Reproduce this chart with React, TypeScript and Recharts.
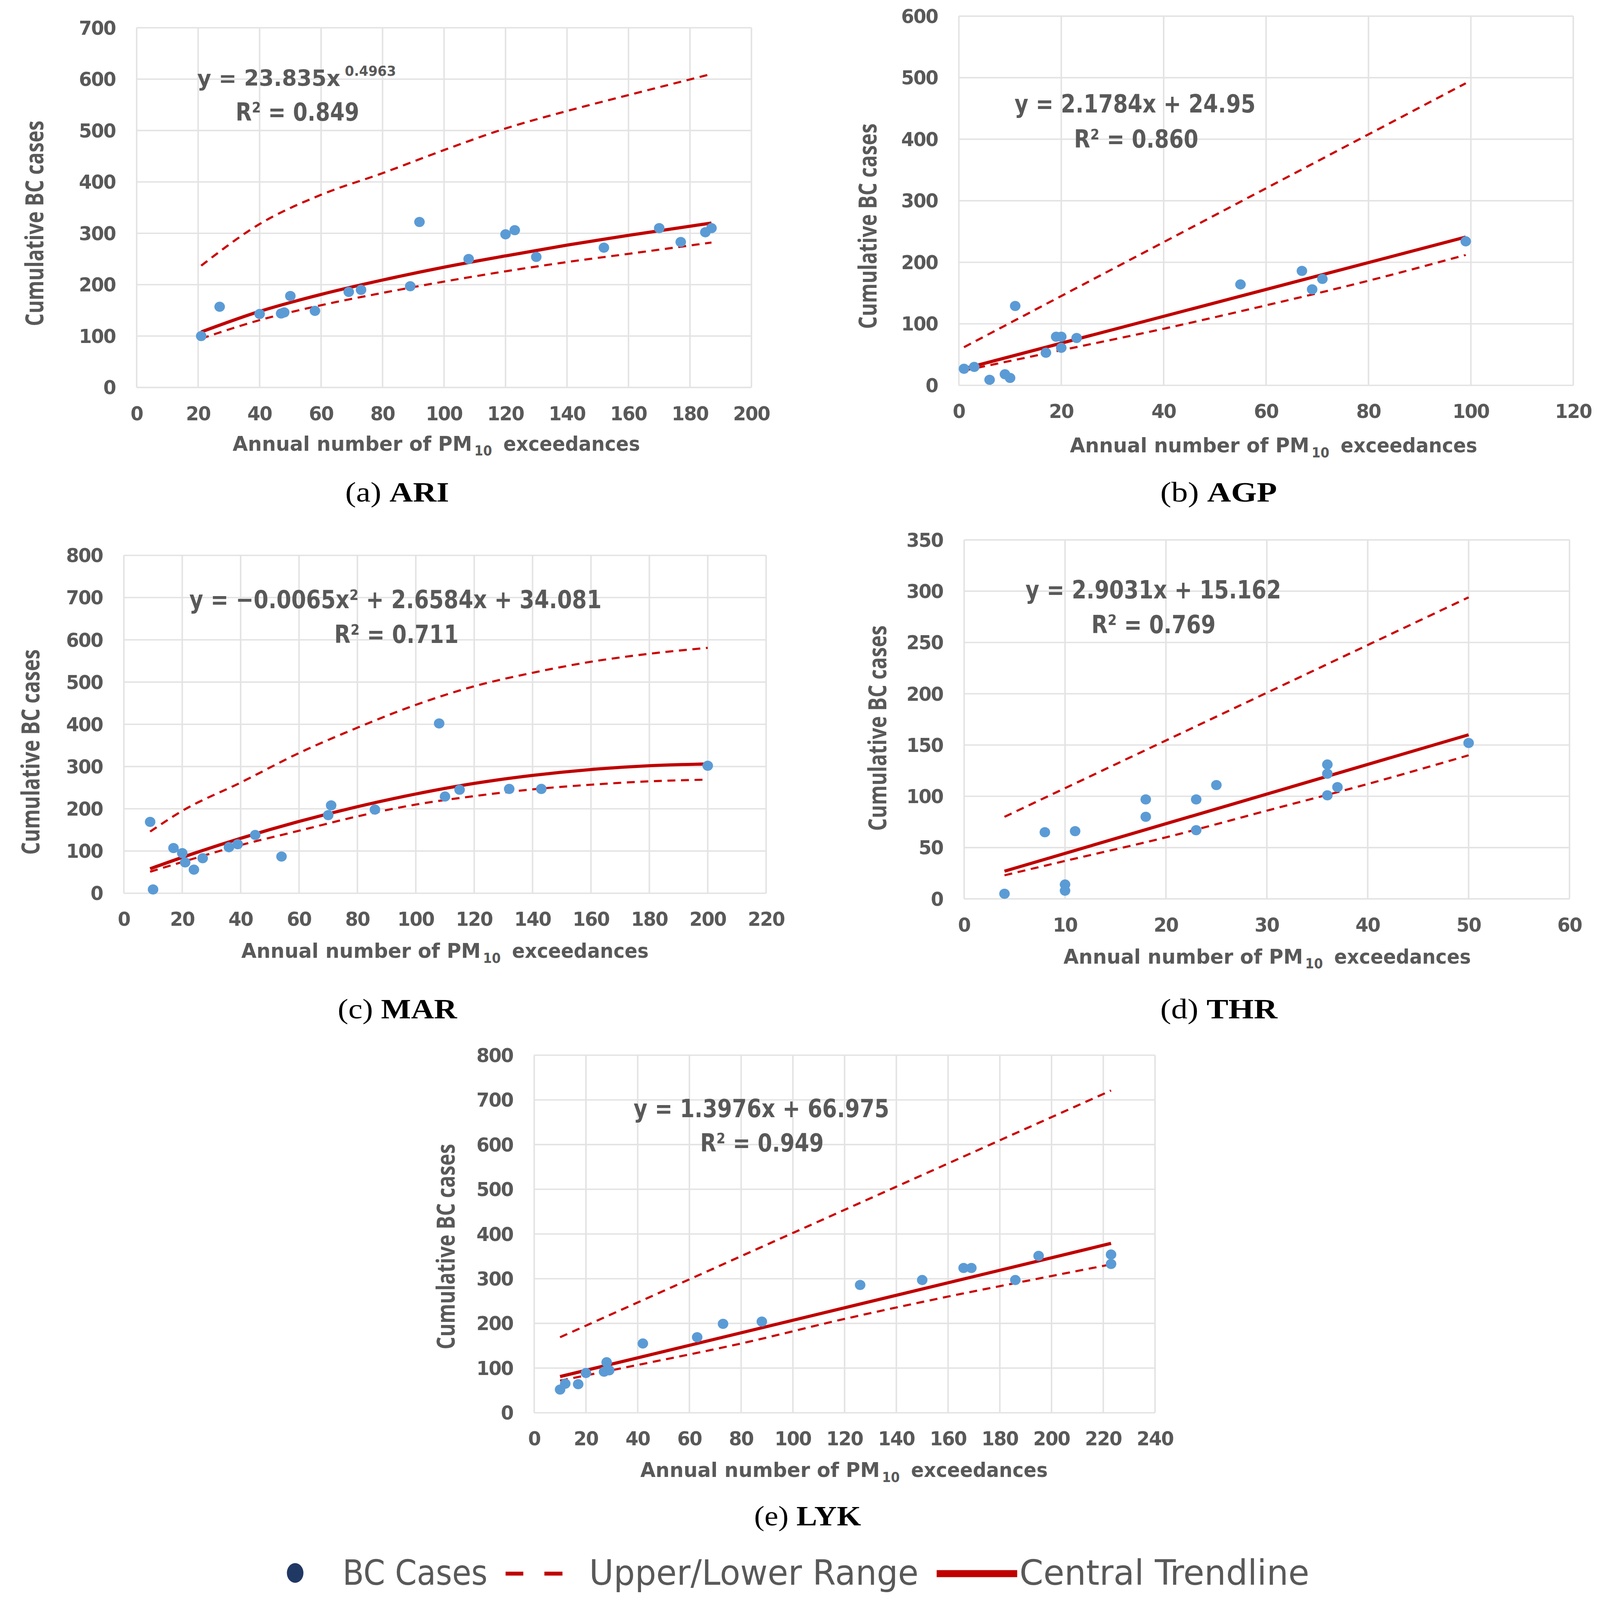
import React from 'react';
import { ComposedChart, Scatter, Line, XAxis, YAxis, CartesianGrid } from 'recharts';

// ---------- (a) ARI ----------
const ariCasesX = [21, 27, 40, 47, 48, 50, 58, 69, 73, 89, 92, 108, 120, 123, 130, 152, 170, 177, 185, 187];
const ariCasesY = [100, 157, 143, 144, 146, 178, 149, 186, 190, 197, 322, 250, 298, 306, 254, 272, 310, 283, 302, 310];
const ariTrendX = [21, 40, 60, 80, 100, 120, 140, 160, 187];
const ariUpper = [237, 318, 375, 417, 462, 504, 538, 569, 610];
const ariCentral = [108, 148, 181, 209, 234, 256, 277, 296, 320];
const ariLower = [95, 131, 160, 184, 206, 226, 244, 260, 282];
const ariXTicks = [0, 20, 40, 60, 80, 100, 120, 140, 160, 180, 200];
const ariYTicks = [0, 100, 200, 300, 400, 500, 600, 700];

// ---------- (b) AGP ----------
const agpCasesX = [1, 3, 6, 9, 10, 11, 17, 19, 20, 20, 23, 55, 67, 69, 71, 99];
const agpCasesY = [27, 30, 9, 18, 12, 129, 53, 79, 79, 61, 77, 164, 186, 156, 173, 234];
const agpUpperX = [1, 99];
const agpUpper = [62, 491];
const agpCentralX = [1, 99];
const agpCentral = [27, 241];
const agpLowerX = [1, 20, 40, 60, 80, 99];
const agpLower = [24, 57, 92, 130, 170, 212];
const agpXTicks = [0, 20, 40, 60, 80, 100, 120];
const agpYTicks = [0, 100, 200, 300, 400, 500, 600];

// ---------- (c) MAR ----------
const marCasesX = [9, 10, 17, 20, 21, 24, 27, 36, 39, 45, 54, 70, 71, 86, 108, 110, 115, 132, 143, 200];
const marCasesY = [169, 9, 107, 95, 73, 56, 83, 109, 116, 138, 87, 185, 208, 198, 402, 229, 245, 247, 247, 302];
const marTrendX = [9, 20, 40, 60, 80, 100, 120, 140, 160, 180, 200];
const marUpper = [146, 195, 262, 332, 392, 446, 490, 522, 548, 567, 581];
const marCentral = [58, 85, 130, 170, 205, 235, 260, 279, 293, 302, 306];
const marLower = [51, 74, 114, 148, 182, 210, 230, 246, 257, 265, 269];
const marXTicks = [0, 20, 40, 60, 80, 100, 120, 140, 160, 180, 200, 220];
const marYTicks = [0, 100, 200, 300, 400, 500, 600, 700, 800];

// ---------- (d) THR ----------
const thrCasesX = [4, 8, 10, 10, 11, 18, 18, 23, 23, 25, 36, 36, 36, 37, 50];
const thrCasesY = [5, 65, 14, 8, 66, 97, 80, 97, 67, 111, 131, 122, 101, 109, 152];
const thrUpperX = [4, 50];
const thrUpper = [80, 294];
const thrCentralX = [4, 50];
const thrCentral = [27, 160];
const thrLowerX = [4, 10, 20, 30, 40, 50];
const thrLower = [23, 37, 60, 86, 112, 140];
const thrXTicks = [0, 10, 20, 30, 40, 50, 60];
const thrYTicks = [0, 50, 100, 150, 200, 250, 300, 350];

// ---------- (e) LYK ----------
const lykCasesX = [10, 12, 17, 20, 27, 28, 29, 42, 63, 73, 88, 126, 150, 166, 169, 186, 195, 223, 223];
const lykCasesY = [52, 65, 64, 89, 92, 113, 95, 155, 169, 199, 204, 286, 297, 324, 324, 297, 351, 354, 333];
const lykUpperX = [10, 223];
const lykUpper = [169, 721];
const lykCentralX = [10, 223];
const lykCentral = [81, 379];
const lykLowerX = [10, 40, 80, 120, 160, 200, 223];
const lykLower = [72, 107, 155, 210, 260, 306, 332];
const lykXTicks = [0, 20, 40, 60, 80, 100, 120, 140, 160, 180, 200, 220, 240];
const lykYTicks = [0, 100, 200, 300, 400, 500, 600, 700, 800];

const zip = (xs: number[], ys: number[]) => xs.map((x, i) => ({ x, y: ys[i] }));

const PAGE_W = 4250;
const PAGE_H = 4555;

const NARROW = "'Liberation Sans Narrow', 'Arial Narrow', 'DejaVu Sans Condensed', 'Liberation Sans', sans-serif";
const WIDE = "'Open Sans', 'DejaVu Sans', sans-serif";
const SERIF = "'Liberation Serif', 'DejaVu Serif', serif";
const GREY = '#595959';
const DASH_RED = '#CC0000';
const LINE_RED = '#C00000';

const tickStyle = { fill: GREY, fontSize: 55, fontFamily: NARROW, fontWeight: 'bold', letterSpacing: -2 };

const Dot = (p: any) => <ellipse cx={p.cx} cy={p.cy} rx={14} ry={14.5} fill="#5B9BD5" />;

type PanelProps = {
  l: number; r: number; t: number; b: number;
  xTicks: number[]; yTicks: number[];
  cases: { x: number; y: number }[];
  upper: { x: number; y: number }[];
  lower: { x: number; y: number }[];
  central: { x: number; y: number }[];
};

function Panel({ l, r, t, b, xTicks, yTicks, cases, upper, lower, central }: PanelProps) {
  const W = r - l + 260;
  const H = b - t + 200;
  return (
    <div style={{ position: 'absolute', left: l - 200, top: t - 60, width: W, height: H }}>
      <ComposedChart width={W} height={H} margin={{ top: 60, right: 60, left: 60, bottom: 0 }}>
        <CartesianGrid stroke="#E3E3E3" strokeWidth={4} />
        <XAxis
          type="number"
          dataKey="x"
          domain={[xTicks[0], xTicks[xTicks.length - 1]]}
          ticks={xTicks}
          interval={0}
          height={140}
          tickSize={0}
          tickMargin={54}
          axisLine={false}
          tickLine={false}
          tick={tickStyle}
        />
        <YAxis
          type="number"
          dataKey="y"
          domain={[yTicks[0], yTicks[yTicks.length - 1]]}
          ticks={yTicks}
          interval={0}
          width={140}
          tickSize={0}
          tickMargin={56}
          axisLine={false}
          tickLine={false}
          tick={tickStyle}
        />
        <Scatter data={cases} dataKey="y" shape={Dot} isAnimationActive={false} />
        <Line data={upper} dataKey="y" type="monotone" stroke={DASH_RED} strokeWidth={6} strokeDasharray="21 15" dot={false} activeDot={false} isAnimationActive={false} />
        <Line data={lower} dataKey="y" type="monotone" stroke={DASH_RED} strokeWidth={6} strokeDasharray="21 15" dot={false} activeDot={false} isAnimationActive={false} />
        <Line data={central} dataKey="y" type="monotone" stroke={LINE_RED} strokeWidth={9} dot={false} activeDot={false} isAnimationActive={false} />
      </ComposedChart>
    </div>
  );
}

const T = ({ x, y, len, size, children, weight = 'bold', family = NARROW, fill = GREY, anchor = 'start', rotate = false }: any) => (
  <text
    x={x}
    y={y}
    fontSize={size}
    fontFamily={family}
    fontWeight={weight}
    fill={fill}
    textLength={len}
    lengthAdjust="spacingAndGlyphs"
    textAnchor={anchor}
    transform={rotate ? `rotate(-90 ${x} ${y})` : undefined}
  >
    {children}
  </text>
);

const XTitle = ({ x, y }: { x: number; y: number }) => (
  <g>
    <T x={x} y={y} len={636} size={58}>Annual number of PM</T>
    <T x={x + 642} y={y + 14} len={47} size={40}>10</T>
    <T x={x + 719} y={y} len={363} size={58}>exceedances</T>
  </g>
);

const YTitle = ({ cx, cy }: { cx: number; cy: number }) => (
  <T x={cx + 23} y={cy} len={585} size={66} family={WIDE} anchor="middle" rotate>
    Cumulative BC cases
  </T>
);

const Caption = ({ x, y, len, tag, name }: any) => (
  <text x={x} y={y} fontSize={80} fontFamily={SERIF} fill="#000" textLength={len} lengthAdjust="spacingAndGlyphs">
    <tspan>{`(${tag}) `}</tspan>
    <tspan fontWeight="bold">{name}</tspan>
  </text>
);

export default function App() {
  const vw = typeof window !== 'undefined' && window.innerWidth ? window.innerWidth : PAGE_W;
  const vh = typeof window !== 'undefined' && window.innerHeight ? window.innerHeight : PAGE_H;
  const sx = Math.min(1, vw / PAGE_W);
  const sy = Math.min(1, vh / PAGE_H);
  return (
    <div style={{ position: 'absolute', left: 0, top: 0, width: Math.min(vw, PAGE_W), height: Math.min(vh, PAGE_H), overflow: 'hidden', background: '#fff' }}>
      <div style={{ position: 'absolute', left: 0, top: 0, width: PAGE_W, height: PAGE_H, background: '#fff', transform: `scale(${sx}, ${sy})`, transformOrigin: '0 0' }}>
        <Panel l={363} r={1996} t={79} b={1103} xTicks={ariXTicks} yTicks={ariYTicks}
          cases={zip(ariCasesX, ariCasesY)} upper={zip(ariTrendX, ariUpper)} lower={zip(ariTrendX, ariLower)} central={zip(ariTrendX, ariCentral)} />
        <Panel l={2547} r={4179} t={46} b={1097} xTicks={agpXTicks} yTicks={agpYTicks}
          cases={zip(agpCasesX, agpCasesY)} upper={zip(agpUpperX, agpUpper)} lower={zip(agpLowerX, agpLower)} central={zip(agpCentralX, agpCentral)} />
        <Panel l={329} r={2035} t={1581} b={2543} xTicks={marXTicks} yTicks={marYTicks}
          cases={zip(marCasesX, marCasesY)} upper={zip(marTrendX, marUpper)} lower={zip(marTrendX, marLower)} central={zip(marTrendX, marCentral)} />
        <Panel l={2561} r={4169} t={1537} b={2559} xTicks={thrXTicks} yTicks={thrYTicks}
          cases={zip(thrCasesX, thrCasesY)} upper={zip(thrUpperX, thrUpper)} lower={zip(thrLowerX, thrLower)} central={zip(thrCentralX, thrCentral)} />
        <Panel l={1419} r={3068} t={3004} b={4022} xTicks={lykXTicks} yTicks={lykYTicks}
          cases={zip(lykCasesX, lykCasesY)} upper={zip(lykUpperX, lykUpper)} lower={zip(lykLowerX, lykLower)} central={zip(lykCentralX, lykCentral)} />

        <svg width={PAGE_W} height={PAGE_H} style={{ position: 'absolute', left: 0, top: 0, pointerEvents: 'none' }}>
          {/* equations */}
          <T x={524} y={245} len={380} size={63}>y = 23.835x</T>
          <T x={916} y={216} len={136} size={40}>0.4963</T>
          <T x={626} y={344} len={328} size={72}>R² = 0.849</T>

          <T x={2695} y={320} len={640} size={72}>y = 2.1784x + 24.95</T>
          <T x={2853} y={420} len={330} size={72}>R² = 0.860</T>

          <T x={503} y={1731} len={1095} size={72}>y = −0.0065x² + 2.6584x + 34.081</T>
          <T x={888} y={1830} len={330} size={72}>R² = 0.711</T>

          <T x={2724} y={1704} len={679} size={72}>y = 2.9031x + 15.162</T>
          <T x={2899} y={1803} len={330} size={72}>R² = 0.769</T>

          <T x={1683} y={3180} len={679} size={72}>y = 1.3976x + 66.975</T>
          <T x={1860} y={3278} len={328} size={72}>R² = 0.949</T>

          {/* axis titles */}
          <XTitle x={618} y={1283} />
          <XTitle x={2842} y={1288} />
          <XTitle x={641} y={2727} />
          <XTitle x={2825} y={2743} />
          <XTitle x={1701} y={4205} />
          <YTitle cx={92} cy={636} />
          <YTitle cx={2305} cy={644} />
          <YTitle cx={82} cy={2141} />
          <YTitle cx={2331} cy={2073} />
          <YTitle cx={1185} cy={3549} />

          {/* captions */}
          <Caption x={917} y={1428} len={276} tag="a" name="ARI" />
          <Caption x={3082} y={1428} len={310} tag="b" name="AGP" />
          <Caption x={897} y={2899} len={317} tag="c" name="MAR" />
          <Caption x={3082} y={2899} len={311} tag="d" name="THR" />
          <Caption x={2003} y={4343} len={284} tag="e" name="LYK" />

          {/* legend */}
          <ellipse cx={784} cy={4478} rx={22} ry={28} fill="#203864" />
          <T x={910} y={4512} len={385} size={100} weight="normal">BC Cases</T>
          <line x1={1343} y1={4480} x2={1390} y2={4480} stroke={LINE_RED} strokeWidth={11} />
          <line x1={1446} y1={4480} x2={1494} y2={4480} stroke={LINE_RED} strokeWidth={11} />
          <T x={1565} y={4512} len={875} size={100} weight="normal">Upper/Lower Range</T>
          <line x1={2488} y1={4480} x2={2702} y2={4480} stroke={LINE_RED} strokeWidth={20} />
          <T x={2708} y={4512} len={770} size={100} weight="normal">Central Trendline</T>
        </svg>
      </div>
    </div>
  );
}
